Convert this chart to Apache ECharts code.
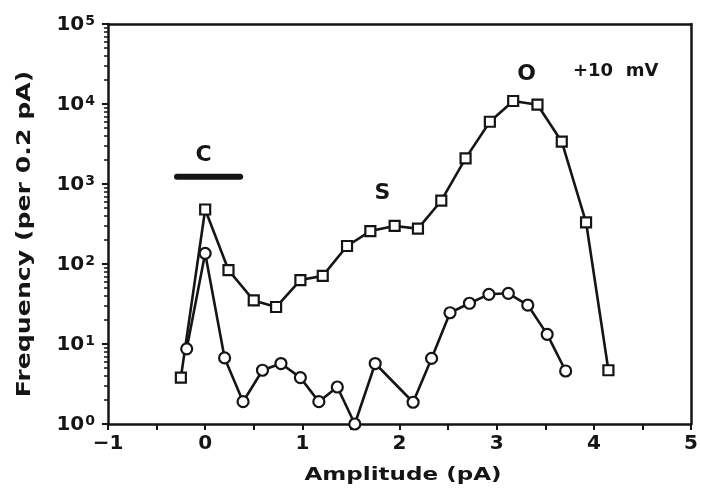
<!DOCTYPE html>
<html>
<head>
<meta charset="utf-8">
<script src="https://cdn.jsdelivr.net/npm/echarts@6/dist/echarts.min.js"></script>
<style>html,body{margin:0;padding:0;background:#fff}#c{width:701px;height:493px}</style>
</head>
<body>
<div id="c"></div>
<script>
// Square series (upper histogram)
const sqX = [-0.25, 0.0, 0.24, 0.5, 0.73, 0.98, 1.21, 1.46, 1.70, 1.95, 2.19, 2.43, 2.68, 2.93, 3.17, 3.42, 3.67, 3.92, 4.15];
const sqY = [3.8, 480, 84, 35, 29, 63, 71, 168, 258, 299, 277, 618, 2090, 6000, 10900, 9800, 3380, 332, 4.7];
// Circle series (lower histogram)
const ciX = [-0.19, 0.0, 0.2, 0.39, 0.59, 0.78, 0.98, 1.17, 1.36, 1.54, 1.75, 2.14, 2.33, 2.52, 2.72, 2.92, 3.12, 3.32, 3.52, 3.71];
const ciY = [8.7, 136, 6.7, 1.9, 4.7, 5.7, 3.8, 1.9, 2.9, 1.0, 5.7, 1.87, 6.6, 24.6, 32.3, 41.8, 43, 30.7, 13.2, 4.6];
// Closed-state bar "C"
const barCX = [-0.29, 0.36];
const barCY = [1230, 1230];
// Axis ranges / ticks
const xMin = -1, xMax = 5, xTickStep = 0.5;
const yMin = 1, yMax = 100000;
const yMinorTicks = [2,3,4,5,6,7,8,9,20,30,40,50,60,70,80,90,200,300,400,500,600,700,800,900,2000,3000,4000,5000,6000,7000,8000,9000,20000,30000,40000,50000,60000,70000,80000,90000];
const labels = {C: 'C', S: 'S', O: 'O', V: '+10  mV'};
const xName = 'Amplitude (pA)';
const yName = 'Frequency (per 0.2 pA)';

const zip = (a, b) => a.map((v, i) => [v, b[i]]);
const FONT = 'DejaVu Sans';
const INK = '#151515';
const chart = echarts.init(document.getElementById('c'), null, {renderer: 'canvas'});
const logAxisBase = {type: 'log', min: yMin, max: yMax, logBase: 10, splitLine: {show: false}};
chart.setOption({
  animation: false,
  backgroundColor: '#fff',
  grid: {left: 108, right: 10, top: 24, bottom: 69},
  xAxis: [{
    type: 'value', min: xMin, max: xMax, interval: xTickStep,
    axisLine: {onZero: false, lineStyle: {color: INK, width: 2.5}},
    axisTick: {inside: false, length: 6, lineStyle: {color: INK, width: 2}},
    axisLabel: {fontFamily: FONT, fontWeight: 'bold', fontSize: 20, color: INK, margin: 10,
      formatter: v => (Math.abs(v - Math.round(v)) < 1e-9 ? String(Math.round(v)).replace('-', '\u2212') : '')},
    splitLine: {show: false}
  }, {
    type: 'value', min: xMin, max: xMax, position: 'top',
    axisLine: {show: true, onZero: false, lineStyle: {color: INK, width: 2.5}},
    axisTick: {show: false}, axisLabel: {show: false}, splitLine: {show: false}
  }],
  yAxis: [Object.assign({}, logAxisBase, {
    axisLine: {show: true, onZero: false, lineStyle: {color: INK, width: 2.5}},
    axisTick: {show: true, inside: false, length: 6, lineStyle: {color: INK, width: 2}},
    axisLabel: {margin: 13, color: INK,
      formatter: v => '{b|10}{s|' + Math.round(Math.log10(v)) + '}',
      rich: {
        b: {fontFamily: FONT, fontWeight: 'bold', fontSize: 20, color: INK, lineHeight: 22, verticalAlign: 'bottom', padding: [5, 0, 0, 0]},
        s: {fontFamily: FONT, fontWeight: 'bold', fontSize: 14, color: INK, lineHeight: 12, verticalAlign: 'top', padding: [1, 0, 0, 1]}
      }}
  }), Object.assign({}, logAxisBase, {
    position: 'left',
    axisLine: {show: false, onZero: false},
    axisTick: {show: true, inside: false, length: 4, customValues: yMinorTicks, lineStyle: {color: INK, width: 1.5}},
    axisLabel: {show: false}
  }), Object.assign({}, logAxisBase, {
    position: 'right',
    axisLine: {show: true, onZero: false, lineStyle: {color: INK, width: 2.5}},
    axisTick: {show: false}, axisLabel: {show: false}
  })],
  series: [
    {type: 'line', name: 'sq', data: zip(sqX, sqY), symbol: 'rect', symbolSize: 10,
      lineStyle: {color: INK, width: 2.6}, itemStyle: {color: '#fff', borderColor: INK, borderWidth: 2.2}, z: 3},
    {type: 'line', name: 'ci', data: zip(ciX, ciY), symbol: 'circle', symbolSize: 11,
      lineStyle: {color: INK, width: 2.6}, itemStyle: {color: '#fff', borderColor: INK, borderWidth: 2.2}, z: 4},
    {type: 'line', name: 'barC', data: zip(barCX, barCY), symbol: 'none',
      lineStyle: {color: INK, width: 6, cap: 'round'}}
  ],
  graphic: [
    {type: 'text', x: 403, y: 475, scaleX: 1.28, style: {text: xName, font: 'bold 18px "DejaVu Sans"', fill: INK, align: 'center', verticalAlign: 'middle'}},
    {type: 'text', x: 25, y: 234, rotation: Math.PI / 2, scaleX: 1.26, style: {text: yName, font: 'bold 20px "DejaVu Sans"', fill: INK, align: 'center', verticalAlign: 'middle'}},
    {type: 'text', x: 203.5, y: 155, style: {text: labels.C, font: 'bold 22px "DejaVu Sans"', fill: INK, align: 'center', verticalAlign: 'middle'}},
    {type: 'text', x: 382.5, y: 193, style: {text: labels.S, font: 'bold 22px "DejaVu Sans"', fill: INK, align: 'center', verticalAlign: 'middle'}},
    {type: 'text', x: 526.5, y: 74, style: {text: labels.O, font: 'bold 22px "DejaVu Sans"', fill: INK, align: 'center', verticalAlign: 'middle'}},
    {type: 'text', x: 573, y: 71, style: {text: labels.V, font: 'bold 18px "DejaVu Sans"', fill: INK, align: 'left', verticalAlign: 'middle'}}
  ]
});
</script>
</body>
</html>
